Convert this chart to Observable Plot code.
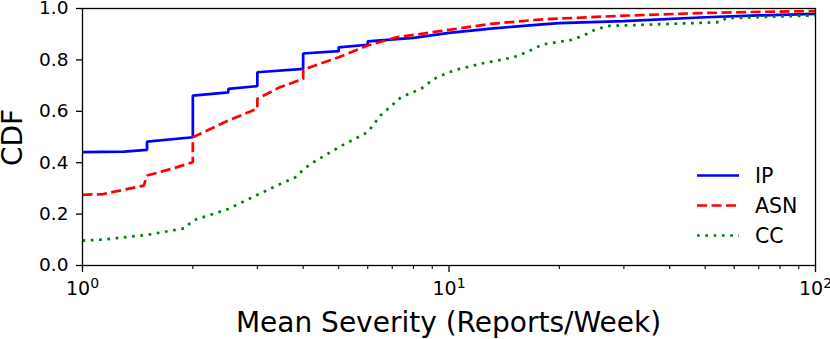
<!DOCTYPE html>
<html>
<head>
<meta charset="utf-8">
<script src="https://cdn.jsdelivr.net/npm/d3@7"></script>
<script src="https://cdn.jsdelivr.net/npm/@observablehq/plot@0.6"></script>
<style>
  html, body { margin: 0; padding: 0; background: #fff; }
  #chart { width: 830px; height: 339px; }
  svg { font-family: "DejaVu Sans", sans-serif; }
</style>
</head>
<body>
<div id="chart"></div>
<script>
// ---- Data ----
const ipX  = [1, 1.3, 1.5, 1.5, 2, 2, 2.5, 2.5, 3, 3, 4, 4, 5, 5, 6, 6, 8, 10, 13, 18, 20, 30, 50, 70, 100];
const ipY  = [0.441, 0.443, 0.45, 0.482, 0.499, 0.661, 0.674, 0.687, 0.698, 0.752, 0.765, 0.825, 0.834, 0.849, 0.859, 0.872, 0.886, 0.905, 0.922, 0.938, 0.943, 0.951, 0.966, 0.973, 0.979];

const asnX = [1, 1.14, 1.24, 1.47, 1.5, 1.75, 2, 2, 2.5, 3, 3, 3.46, 4, 4, 5, 6, 7.2, 10, 13, 18, 30, 48, 70, 100];
const asnY = [0.275, 0.278, 0.289, 0.311, 0.35, 0.376, 0.402, 0.499, 0.564, 0.61, 0.649, 0.694, 0.726, 0.762, 0.81, 0.856, 0.888, 0.917, 0.94, 0.958, 0.972, 0.982, 0.987, 0.99];

const ccX  = [1, 1.14, 1.5, 1.9, 2, 2.5, 3, 3.5, 3.8, 4, 4.2, 5, 6, 6.5, 7.4, 8.4, 9.1, 10, 10.7, 12.2, 15, 16.3, 18, 21.6, 23.3, 25, 27, 40, 55, 57, 75, 100];
const ccY  = [0.097, 0.101, 0.119, 0.145, 0.175, 0.22, 0.275, 0.32, 0.342, 0.372, 0.396, 0.46, 0.519, 0.584, 0.655, 0.688, 0.726, 0.752, 0.765, 0.785, 0.81, 0.83, 0.86, 0.878, 0.895, 0.917, 0.932, 0.94, 0.947, 0.962, 0.968, 0.973];

const seriesNames = ["IP", "ASN", "CC"];
const seriesColors = ["#0000ff", "#ff0000", "#008000"];
const seriesDash = [null, "10,4.5", "2.7,5.6"];
const seriesWidth = [2.7, 2.7, 2.7];

const xMajorTicks = [1, 10, 100];
const xMinorTicks = [2, 3, 4, 5, 6, 7, 8, 9, 20, 30, 40, 50, 60, 70, 80, 90];
const yTicks = [0, 0.2, 0.4, 0.6, 0.8, 1.0];
const xLabel = "Mean Severity (Reports/Week)";
const yLabel = "CDF";

// ---- Build tables ----
const toRows = (xs, ys) => xs.map((x, i) => ({x, y: ys[i]}));
const series = [toRows(ipX, ipY), toRows(asnX, asnY), toRows(ccX, ccY)];

const W = 830, H = 339;
const mL = 82, mR = 15, mT = 8, mB = 74;

const lineMarks = series.map((rows, i) => Plot.line(rows, {
  x: "x", y: "y",
  stroke: seriesColors[i],
  strokeWidth: seriesWidth[i],
  strokeDasharray: seriesDash[i] || undefined,
  strokeLinecap: "butt",
  strokeLinejoin: "miter",
  clip: true
}));

const chart = Plot.plot({
  width: W, height: H,
  marginLeft: mL, marginRight: mR, marginTop: mT, marginBottom: mB,
  style: {fontFamily: "DejaVu Sans, sans-serif", fontSize: "18px", color: "black", background: "white"},
  x: {type: "log", domain: [1, 100]},
  y: {domain: [0, 1]},
  marks: [
    ...lineMarks,
    Plot.frame({stroke: "black", strokeWidth: 1.3}),
    Plot.axisY({ticks: yTicks, tickFormat: d => d.toFixed(1), tickSize: 6, tickPadding: 8, label: null, fontSize: 18.5, stroke: "black", strokeWidth: 1.3}),
    Plot.axisX({ticks: xMajorTicks, tickFormat: d => "10^" + Math.round(Math.log10(d)), tickSize: 7, tickPadding: 9, label: null, fontSize: 19, stroke: "black", strokeWidth: 1.3}),
    Plot.axisX({ticks: xMinorTicks, tickFormat: () => "", tickSize: 4, label: null, stroke: "black", strokeWidth: 1.1})
  ]
});

document.getElementById("chart").appendChild(chart);

const svg = d3.select(chart);

// Superscript exponents in x tick labels
svg.selectAll("text").each(function() {
  const t = this.textContent;
  if (t && t.indexOf("^") >= 0) {
    const [base, exp] = t.split("^");
    const el = d3.select(this);
    el.text(null);
    el.append("tspan").text(base);
    el.append("tspan").attr("dy", "-0.5em").style("font-size", "14px").text(exp);
  }
});

// Axis labels
svg.append("text")
  .attr("x", (mL + (W - mR)) / 2)
  .attr("y", 332)
  .attr("text-anchor", "middle")
  .style("font-size", "28px")
  .attr("fill", "black")
  .text(xLabel);

svg.append("text")
  .attr("transform", `translate(22, ${(mT + (H - mB)) / 2 + 1}) rotate(-90)`)
  .attr("text-anchor", "middle")
  .style("font-size", "28px")
  .attr("fill", "black")
  .text(yLabel);

// Legend (inside lower right)
const lg = svg.append("g").attr("text-anchor", "start");
seriesNames.forEach((name, i) => {
  const yy = 175.5 + i * 30;
  lg.append("line")
    .attr("x1", 697).attr("x2", 739)
    .attr("y1", yy).attr("y2", yy)
    .attr("stroke", seriesColors[i])
    .attr("stroke-width", seriesWidth[i])
    .attr("stroke-dasharray", seriesDash[i]);
  lg.append("text")
    .attr("x", 755).attr("y", yy)
    .attr("dy", "0.36em")
    .attr("text-anchor", "start")
    .style("font-size", "20.5px")
    .attr("fill", "black")
    .text(name);
});
</script>
</body>
</html>
